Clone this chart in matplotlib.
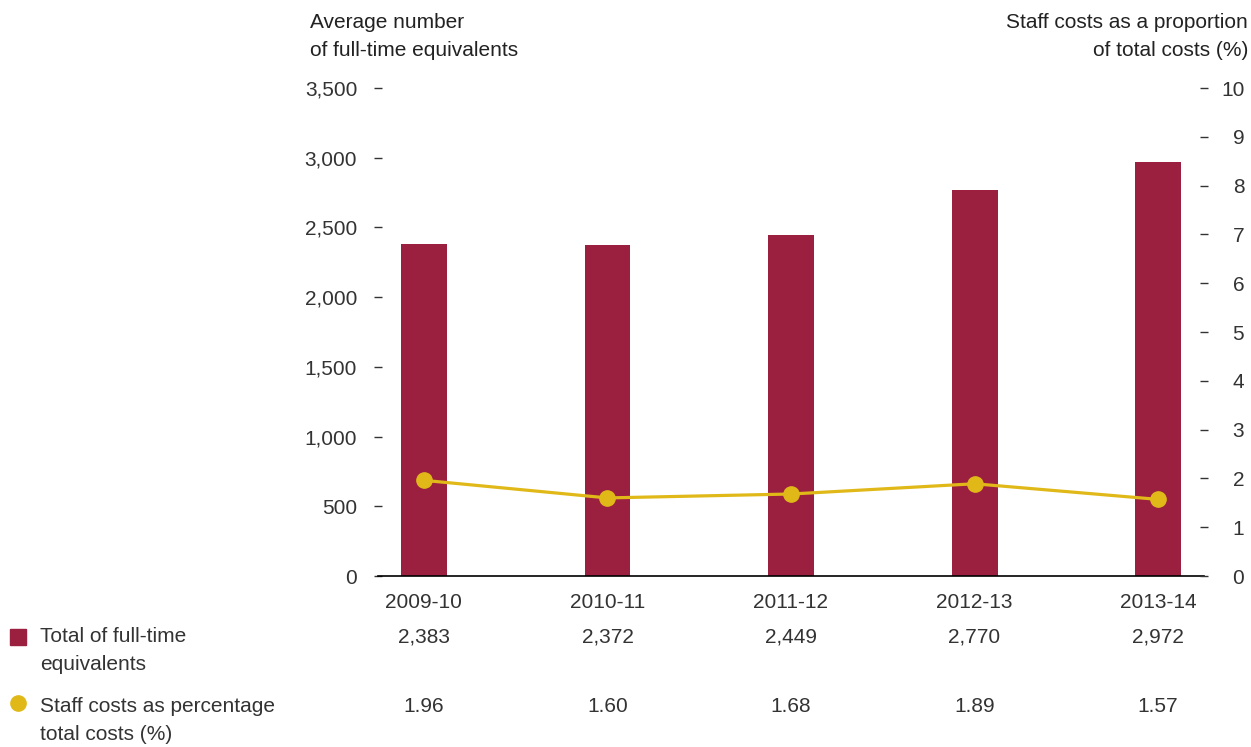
import matplotlib
matplotlib.use('Agg')
import matplotlib.pyplot as plt
import matplotlib.transforms as mtransforms
from matplotlib.ticker import FuncFormatter

plt.rcParams['font.family'] = ['Liberation Sans', 'DejaVu Sans']

years = ['2009-10', '2010-11', '2011-12', '2012-13', '2013-14']
fte = [2383, 2372, 2449, 2770, 2972]
staff_pct = [1.96, 1.60, 1.68, 1.89, 1.57]
fte_labels = ['2,383', '2,372', '2,449', '2,770', '2,972']
pct_labels = ['1.96', '1.60', '1.68', '1.89', '1.57']

bar_color = '#9b1f3f'
line_color = '#e0b919'
text_color = '#333333'
fs = 15

fig = plt.figure(figsize=(12.51, 7.47), dpi=100)
ax = fig.add_axes([378 / 1251, 1 - 576 / 747, 826 / 1251, 488 / 747])
x = list(range(len(years)))

ax.bar(x, fte, width=0.25, color=bar_color, zorder=2)
ax.set_xlim(-0.25, 4.25)
ax.set_ylim(0, 3500)
ax.set_yticks(range(0, 3501, 500))
ax.yaxis.set_major_formatter(FuncFormatter(lambda v, p: f'{int(v):,}'))
ax.set_xticks(x)
ax.set_xticklabels(years)
ax.tick_params(axis='x', length=0, pad=12, labelsize=fs, labelcolor=text_color)
ax.tick_params(axis='y', direction='inout', length=6, width=1, color=text_color,
               pad=12, labelsize=fs, labelcolor=text_color)
for s in ['top', 'right', 'left']:
    ax.spines[s].set_visible(False)
ax.spines['bottom'].set_color('black')
ax.spines['bottom'].set_linewidth(1.2)

ax2 = ax.twinx()
ax2.plot(x, staff_pct, color=line_color, linewidth=2.3, marker='o',
         markersize=11, zorder=3)
ax2.set_ylim(0, 10)
ax2.set_yticks(range(0, 11))
ax2.tick_params(axis='y', direction='inout', length=6, width=1, color=text_color,
                pad=26, labelsize=fs, labelcolor=text_color)
for lbl in ax2.get_yticklabels():
    lbl.set_horizontalalignment('right')
for s in ax2.spines.values():
    s.set_visible(False)

# axis titles
fig.text(310 / 1251, 1 - 13 / 747, 'Average number\nof full-time equivalents',
         ha='left', va='top', fontsize=fs, color='#222222', linespacing=1.58)
fig.text(1248 / 1251, 1 - 13 / 747, 'Staff costs as a proportion\nof total costs (%)',
         ha='right', va='top', fontsize=fs, color='#222222', linespacing=1.58)

# table rows under the chart
trans = mtransforms.blended_transform_factory(ax.transData, fig.transFigure)
for i in x:
    fig.text(i, 1 - 637 / 747, fte_labels[i], transform=trans, ha='center',
             va='center', fontsize=fs, color=text_color)
    fig.text(i, 1 - 707 / 747, pct_labels[i], transform=trans, ha='center',
             va='center', fontsize=fs, color=text_color)

# legend-like row labels
fig.patches.append(plt.Rectangle((10 / 1251, 1 - 645 / 747), 16 / 1251, 16 / 747,
                                 transform=fig.transFigure, color=bar_color))
fig.text(40 / 1251, 1 - 627 / 747, 'Total of full-time\nequivalents', ha='left',
         va='top', fontsize=fs, color=text_color, linespacing=1.62)
fig.lines.append(plt.Line2D([18 / 1251], [1 - 703 / 747], marker='o', markersize=11,
                            color=line_color, transform=fig.transFigure))
fig.text(40 / 1251, 1 - 697 / 747, 'Staff costs as percentage\ntotal costs (%)',
         ha='left', va='top', fontsize=fs, color=text_color, linespacing=1.62)

fig.savefig('out.png', dpi=100)
